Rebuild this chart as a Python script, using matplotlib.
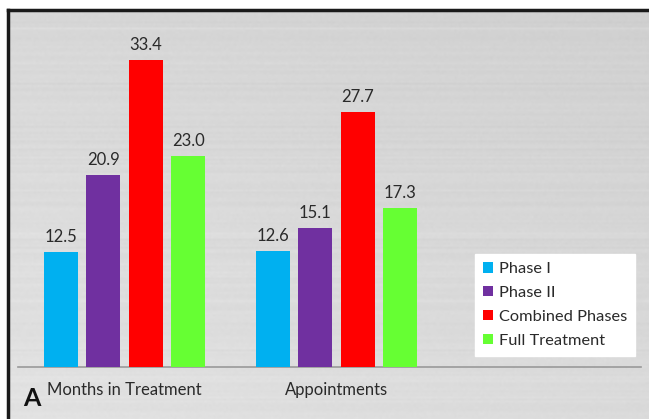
import numpy as np
from matplotlib import pyplot as plt

plt.rcParams['font.family'] = ['Lato', 'DejaVu Sans']

categories = ["Months in Treatment", "Appointments"]
series = ["Phase I", "Phase II", "Combined Phases", "Full Treatment"]
colors = ["#00B0F0", "#7030A0", "#FF0000", "#66FF33"]
values = [
    [12.5, 12.6],
    [20.9, 15.1],
    [33.4, 27.7],
    [23.0, 17.3],
]

W, H = 649, 419
fig = plt.figure(figsize=(W / 100, H / 100), dpi=100)
fig.patch.set_facecolor("white")

# axes frame: left edge at px 8, top edge at px 10
left, top = 8, 10
ax = fig.add_axes([left / W, 0, (W - left) / W, (H - top) / H])

# scales: groups 212 px apart, baseline at px 367, 9.19 px per unit
x0 = 124.5
base = 367
ppu = 9.19
ax.set_xlim((left - x0) / 212, (W - x0) / 212)
ax.set_ylim(-(H - base) / ppu, (base - top) / ppu)

# brushed grey background
yy, xx = np.mgrid[0:1:200j, 0:1:300j]
grad = 0.885 - 0.04 * (1 - yy) - 0.03 * xx
rng = np.random.default_rng(3)
streak = rng.normal(0, 0.006, (200, 1)) + rng.normal(0, 0.003, (200, 300))
ax.imshow(grad + streak, cmap="gray", vmin=0, vmax=1, extent=[0, 1, 0, 1],
          transform=ax.transAxes, aspect="auto", zorder=0, interpolation="bilinear")

offsets = [-0.3, -0.1, 0.1, 0.3]
xs = np.arange(len(categories))
handles = []
for i, s in enumerate(series):
    b = ax.bar(xs + offsets[i], values[i], width=0.16, color=colors[i], zorder=2, label=s)
    handles.append(b)
    for x, v in zip(xs + offsets[i], values[i]):
        ax.annotate(f"{v:.1f}", (x, v), xytext=(0, 5), textcoords="offset points",
                    ha="center", va="bottom", fontsize=12, color="#2a2a2a", zorder=3)

ax.axhline(0, xmin=(18 - left) / (W - left), xmax=(641 - left) / (W - left),
           color="#999999", lw=1.2, zorder=1)

for x, c in zip(xs, categories):
    ax.text(x, -(390 - base) / ppu, c, ha="center", va="center", fontsize=12, color="#2a2a2a")

ax.text((32 - x0) / 212, -(398 - base) / ppu, "A", ha="center", va="center",
        fontsize=18, fontweight="bold", color="#111111")

leg = ax.legend(handles=handles, loc="upper left",
                bbox_to_anchor=((475 - left) / (W - left), (H - 254) / (H - top)),
                borderaxespad=0,
                fontsize=11.8, frameon=True, fancybox=False, framealpha=1,
                handlelength=0.6, handleheight=0.6, handletextpad=0.35,
                labelspacing=0.6, borderpad=0.5)
leg.get_frame().set_edgecolor("white")
leg.get_frame().set_facecolor("white")
for t in leg.get_texts():
    t.set_color("#2a2a2a")

ax.set_xticks([])
ax.set_yticks([])
for side in ["right", "bottom"]:
    ax.spines[side].set_visible(False)
for side in ["left", "top"]:
    ax.spines[side].set_linewidth(2.5)
    ax.spines[side].set_color("#1a1a1a")

fig.savefig("out.png", dpi=100)
